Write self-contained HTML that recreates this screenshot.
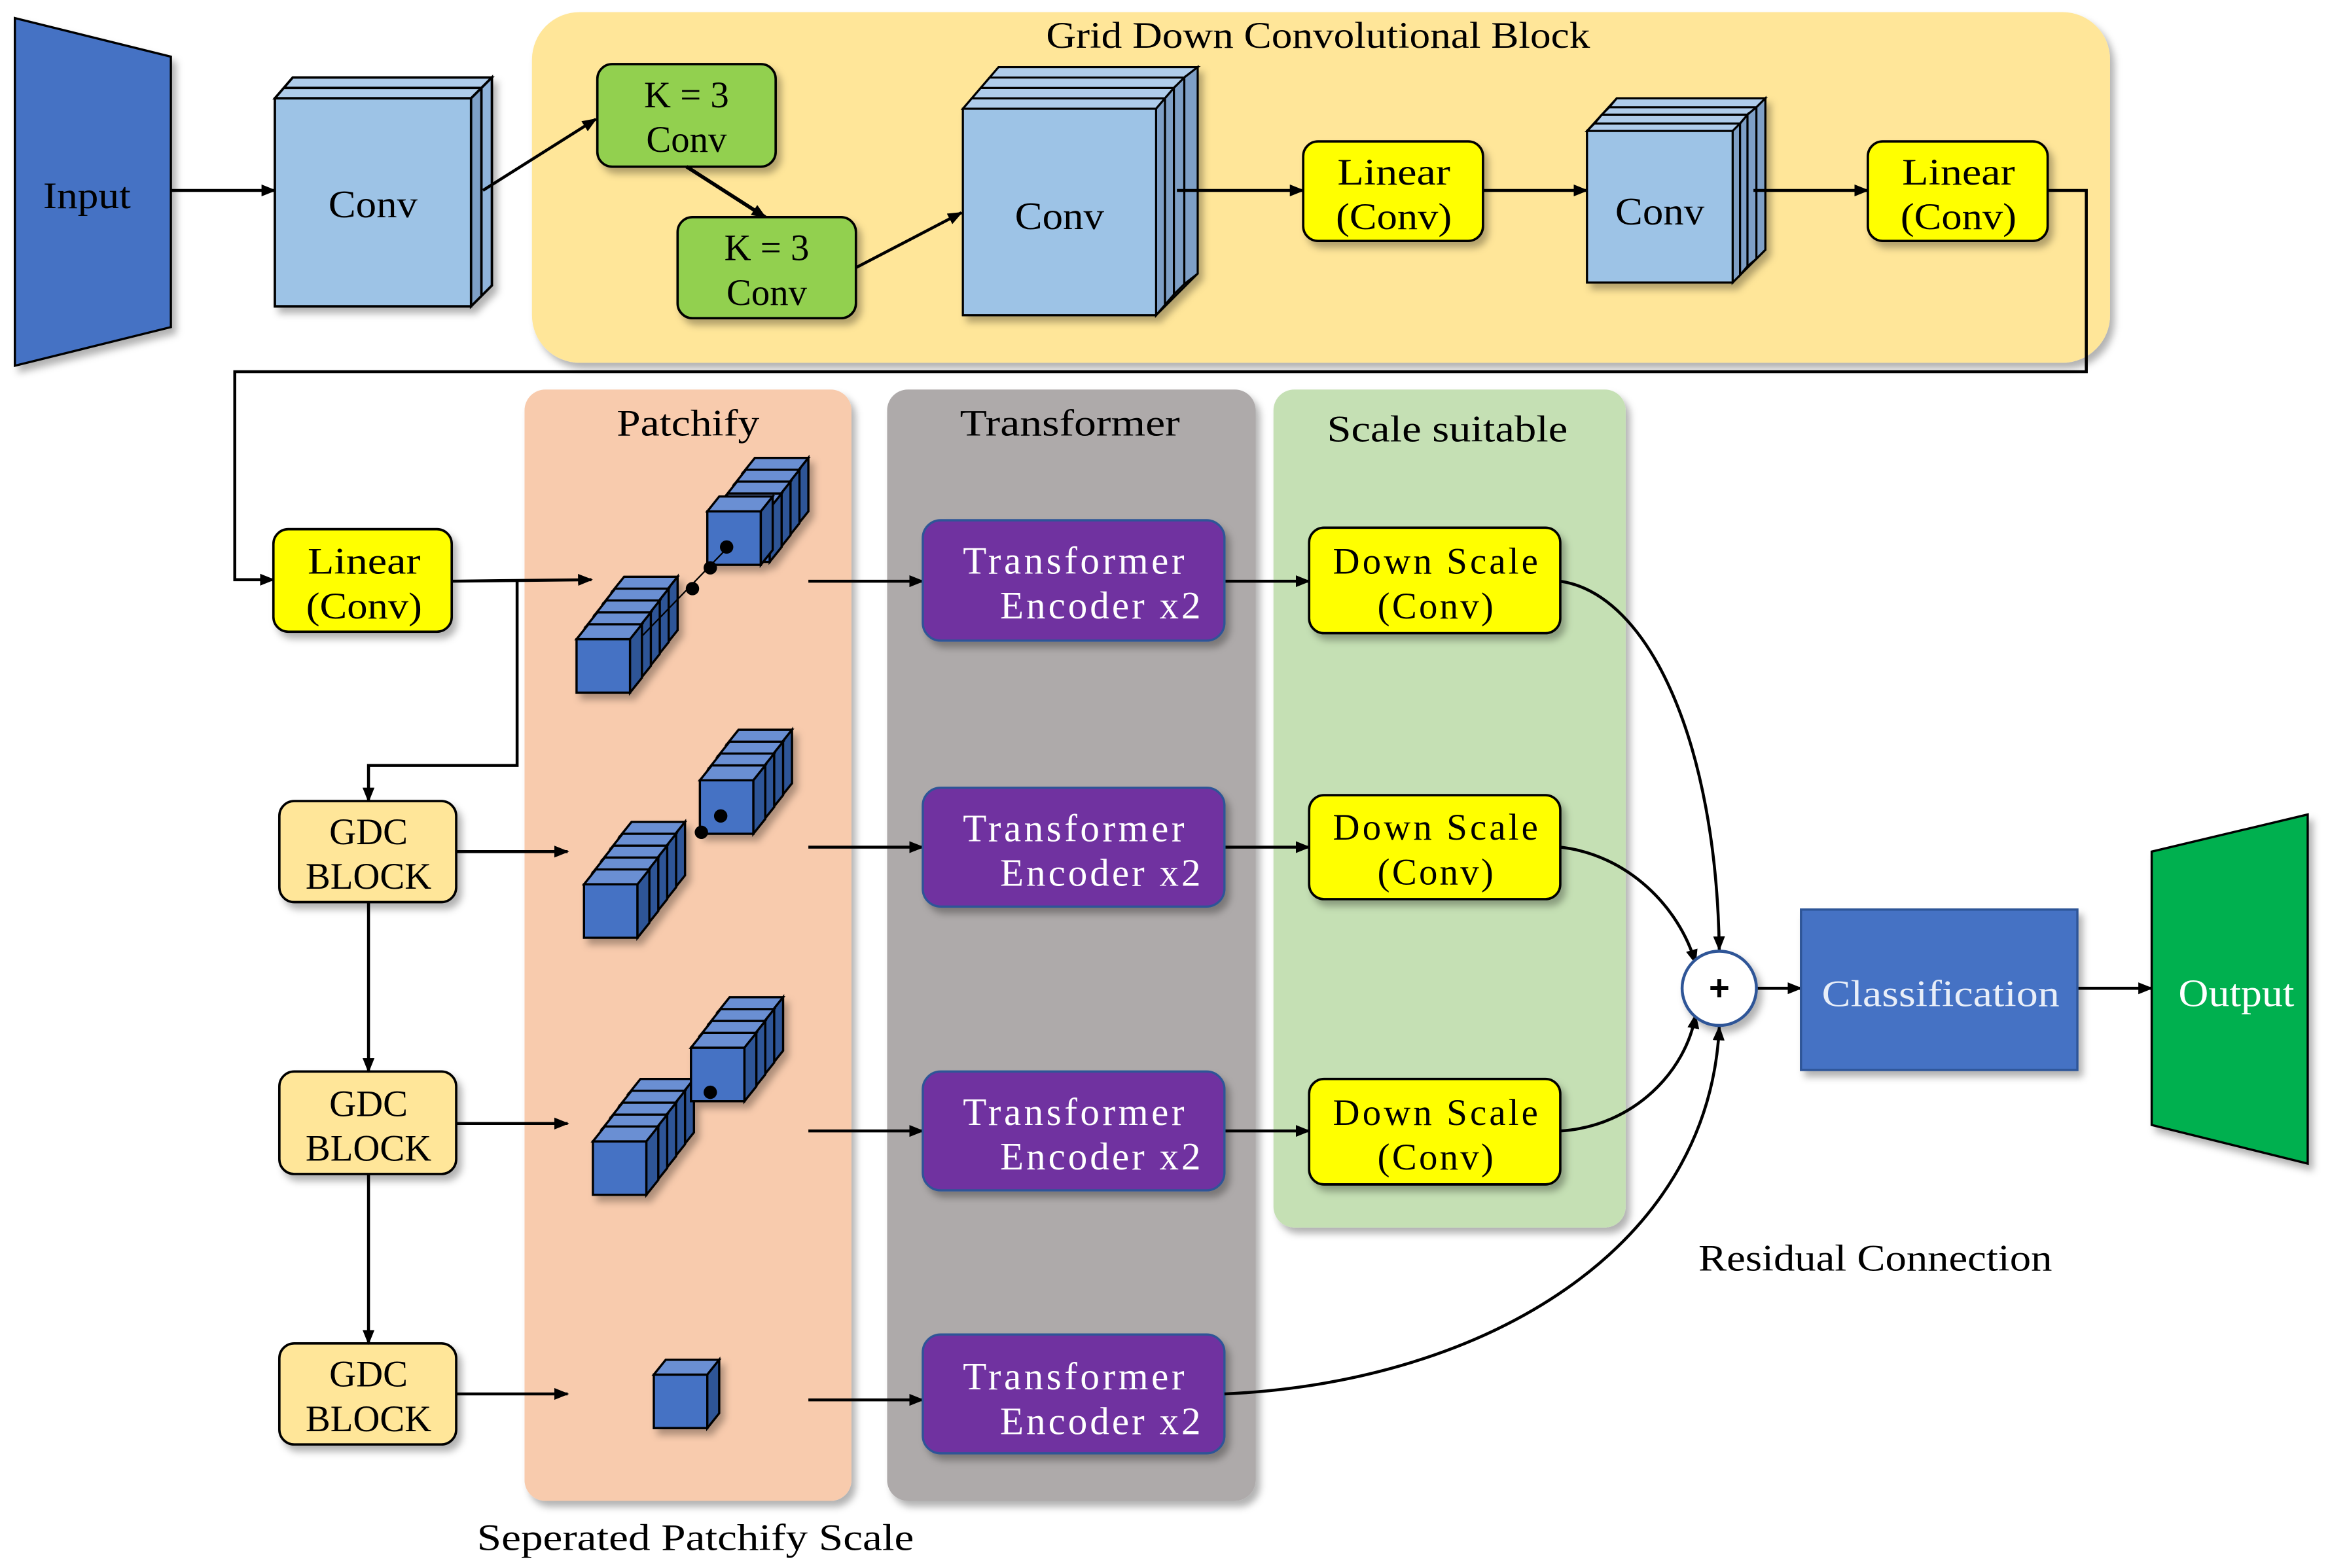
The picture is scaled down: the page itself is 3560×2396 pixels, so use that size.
<!DOCTYPE html>
<html><head><meta charset="utf-8"><style>html,body{margin:0;padding:0;background:#fff}svg{display:block}</style></head>
<body>
<svg width="3560" height="2396" viewBox="0 0 1568 1055" xmlns="http://www.w3.org/2000/svg" font-family="Liberation Serif, serif">
<defs>
<marker id="a" markerWidth="10" markerHeight="8" refX="9" refY="4" orient="auto" markerUnits="userSpaceOnUse"><path d="M0,0 L10,4 L0,8 z" fill="#000"/></marker>
<filter id="sh" x="-10%" y="-10%" width="130%" height="130%"><feDropShadow dx="3" dy="4" stdDeviation="2.5" flood-color="#000" flood-opacity="0.3"/></filter>
<g id="cube"><rect x="0" y="0" width="36" height="36" fill="#4472C4" stroke="#000" stroke-width="1.5"/><path d="M0,0 L8,-10 L44,-10 L36,0 z" fill="#6A8FD3" stroke="#000" stroke-width="1.5"/><path d="M36,0 L44,-10 L44,26 L36,36 z" fill="#2F5597" stroke="#000" stroke-width="1.5"/></g>
</defs>

<!-- panels -->
<rect x="358" y="8" width="1062" height="236" rx="32" fill="#FFE699" filter="url(#sh)"/>
<text x="704" y="32" font-size="25" textLength="366" lengthAdjust="spacingAndGlyphs">Grid Down Convolutional Block</text>
<rect x="353" y="262" width="220" height="748" rx="14" fill="#F8CBAD" filter="url(#sh)"/>
<text x="415" y="293" font-size="25" textLength="96" lengthAdjust="spacingAndGlyphs">Patchify</text>
<rect x="597" y="262" width="248" height="748" rx="14" fill="#AEAAAA" filter="url(#sh)"/>
<text x="646" y="293" font-size="25" textLength="148" lengthAdjust="spacingAndGlyphs">Transformer</text>
<rect x="857" y="262" width="237" height="564" rx="14" fill="#C5E0B4" filter="url(#sh)"/>
<text x="893" y="297" font-size="25" textLength="162" lengthAdjust="spacingAndGlyphs">Scale suitable</text>

<!-- Input -->
<polygon points="10,12 115,38 115,220 10,246" fill="#4472C4" stroke="#000" stroke-width="1.5" filter="url(#sh)"/>
<text x="29" y="140" font-size="25" textLength="59" lengthAdjust="spacingAndGlyphs">Input</text>
<line x1="115" y1="128" x2="185" y2="128" stroke="#000" stroke-width="2" marker-end="url(#a)"/>

<!-- Conv 1 -->
<g stroke="#000" stroke-width="1.6" filter="url(#sh)">
<path d="M197,52 L331,52 L331,192 L317,206 L185,206 L185,66 z" fill="#8FB3DA"/>
<path d="M191,59 L324,59 L331,52 L197,52 z" fill="#AFCCEA"/>
<path d="M185,66 L191,59 L324,59 L317,66 z" fill="#AFCCEA"/>
<path d="M317,66 L324,59 L324,199 L317,206 z" fill="#7E9FC6"/>
<path d="M324,59 L331,52 L331,192 L324,199 z" fill="#8FB3DA"/>
<rect x="185" y="66" width="132" height="140" fill="#9DC3E6"/>
</g>
<text x="221" y="146" font-size="26" textLength="60" lengthAdjust="spacingAndGlyphs">Conv</text>

<line x1="325" y1="128" x2="401" y2="80" stroke="#000" stroke-width="2" marker-end="url(#a)"/>

<!-- K=3 -->
<rect x="402" y="43" width="120" height="69" rx="10" fill="#92D050" stroke="#000" stroke-width="1.6" filter="url(#sh)"/>
<text x="462" y="72" font-size="25" text-anchor="middle">K = 3</text>
<text x="462" y="102" font-size="25" text-anchor="middle">Conv</text>
<line x1="462" y1="112" x2="515" y2="146" stroke="#000" stroke-width="2.5" marker-end="url(#a)"/>
<rect x="456" y="146" width="120" height="68" rx="10" fill="#92D050" stroke="#000" stroke-width="1.6" filter="url(#sh)"/>
<text x="516" y="175" font-size="25" text-anchor="middle">K = 3</text>
<text x="516" y="205" font-size="25" text-anchor="middle">Conv</text>
<line x1="576" y1="180" x2="647" y2="143" stroke="#000" stroke-width="2" marker-end="url(#a)"/>

<!-- Conv 2 big -->
<g stroke="#000" stroke-width="1.4" filter="url(#sh)">
<path d="M672,45 L806,45 L806,184 L778,212 L648,212 L648,73 z" fill="#8FB3DA"/>
<path d="M648,73 L654,66 L784,66 L778,73 z" fill="#AFCCEA"/>
<path d="M654,66 L660,59 L790,59 L784,66 z" fill="#AFCCEA"/>
<path d="M660,59 L666,52 L797,52 L790,59 z" fill="#AFCCEA"/>
<path d="M666,52 L672,45 L806,45 L797,52 z" fill="#AFCCEA"/>
<path d="M778,73 L784,66 L784,205 L778,212 z" fill="#7E9FC6"/>
<path d="M784,66 L790,59 L790,198 L784,205 z" fill="#7E9FC6"/>
<path d="M790,59 L797,52 L797,191 L790,198 z" fill="#7E9FC6"/>
<path d="M797,52 L806,45 L806,184 L797,191 z" fill="#7E9FC6"/>
<rect x="648" y="73" width="130" height="139" fill="#9DC3E6"/>
</g>
<text x="683" y="154" font-size="26" textLength="60" lengthAdjust="spacingAndGlyphs">Conv</text>
<line x1="792" y1="128" x2="877" y2="128" stroke="#000" stroke-width="2" marker-end="url(#a)"/>

<rect x="877" y="95" width="121" height="67" rx="10" fill="#FFFF00" stroke="#000" stroke-width="1.6" filter="url(#sh)"/>
<text x="900" y="124" font-size="25" textLength="76" lengthAdjust="spacingAndGlyphs">Linear</text>
<text x="899" y="154" font-size="25" textLength="78" lengthAdjust="spacingAndGlyphs">(Conv)</text>
<line x1="998" y1="128" x2="1068" y2="128" stroke="#000" stroke-width="2" marker-end="url(#a)"/>

<!-- Conv 3 -->
<g stroke="#000" stroke-width="1.4" filter="url(#sh)">
<path d="M1088,66 L1188,66 L1188,168 L1166,190 L1068,190 L1068,88 z" fill="#8FB3DA"/>
<path d="M1068,88 L1073,83 L1171,83 L1166,88 z" fill="#AFCCEA"/>
<path d="M1073,83 L1078,77 L1176,77 L1171,83 z" fill="#AFCCEA"/>
<path d="M1078,77 L1083,72 L1182,72 L1176,77 z" fill="#AFCCEA"/>
<path d="M1083,72 L1088,66 L1188,66 L1182,72 z" fill="#AFCCEA"/>
<path d="M1166,88 L1171,83 L1171,185 L1166,190 z" fill="#7E9FC6"/>
<path d="M1171,83 L1176,77 L1176,179 L1171,185 z" fill="#7E9FC6"/>
<path d="M1176,77 L1182,72 L1182,174 L1176,179 z" fill="#7E9FC6"/>
<path d="M1182,72 L1188,66 L1188,168 L1182,174 z" fill="#7E9FC6"/>
<rect x="1068" y="88" width="98" height="102" fill="#9DC3E6"/>
</g>
<text x="1087" y="151" font-size="26" textLength="60" lengthAdjust="spacingAndGlyphs">Conv</text>
<line x1="1180" y1="128" x2="1257" y2="128" stroke="#000" stroke-width="2" marker-end="url(#a)"/>

<rect x="1257" y="95" width="121" height="67" rx="10" fill="#FFFF00" stroke="#000" stroke-width="1.6" filter="url(#sh)"/>
<text x="1280" y="124" font-size="25" textLength="76" lengthAdjust="spacingAndGlyphs">Linear</text>
<text x="1279" y="154" font-size="25" textLength="78" lengthAdjust="spacingAndGlyphs">(Conv)</text>

<polyline points="1378,128 1404,128 1404,250 158,250 158,390 184,390" fill="none" stroke="#000" stroke-width="2" marker-end="url(#a)"/>

<!-- Linear left -->
<rect x="184" y="356" width="120" height="69" rx="10" fill="#FFFF00" stroke="#000" stroke-width="1.6" filter="url(#sh)"/>
<text x="207" y="386" font-size="25" textLength="76" lengthAdjust="spacingAndGlyphs">Linear</text>
<text x="206" y="416" font-size="25" textLength="78" lengthAdjust="spacingAndGlyphs">(Conv)</text>
<line x1="304" y1="391" x2="398" y2="390" stroke="#000" stroke-width="2" marker-end="url(#a)"/>
<polyline points="348,391 348,515 248,515 248,539" fill="none" stroke="#000" stroke-width="2" marker-end="url(#a)"/>

<!-- GDC -->
<g filter="url(#sh)">
<rect x="188" y="539" width="119" height="68" rx="10" fill="#FFE699" stroke="#000" stroke-width="1.6"/>
<rect x="188" y="721" width="119" height="69" rx="10" fill="#FFE699" stroke="#000" stroke-width="1.6"/>
<rect x="188" y="904" width="119" height="68" rx="10" fill="#FFE699" stroke="#000" stroke-width="1.6"/>
</g>
<g font-size="25" text-anchor="middle">
<text x="248" y="568">GDC</text><text x="248" y="598">BLOCK</text>
<text x="248" y="751">GDC</text><text x="248" y="781">BLOCK</text>
<text x="248" y="933">GDC</text><text x="248" y="963">BLOCK</text>
</g>
<line x1="307" y1="573" x2="382" y2="573" stroke="#000" stroke-width="2" marker-end="url(#a)"/>
<line x1="248" y1="607" x2="248" y2="721" stroke="#000" stroke-width="2" marker-end="url(#a)"/>
<line x1="307" y1="756" x2="382" y2="756" stroke="#000" stroke-width="2" marker-end="url(#a)"/>
<line x1="248" y1="790" x2="248" y2="904" stroke="#000" stroke-width="2" marker-end="url(#a)"/>
<line x1="307" y1="938" x2="382" y2="938" stroke="#000" stroke-width="2" marker-end="url(#a)"/>

<!-- cubes row1 -->
<g filter="url(#sh)">
<use href="#cube" x="412" y="398"/><use href="#cube" x="406" y="406"/><use href="#cube" x="400" y="414"/><use href="#cube" x="394" y="422"/><use href="#cube" x="388" y="430"/>
<use href="#cube" x="500" y="318"/><use href="#cube" x="494" y="326"/><use href="#cube" x="488" y="334"/><use href="#cube" x="482" y="342"/><use href="#cube" x="476" y="344"/>
</g>
<line x1="432" y1="428" x2="492" y2="366" stroke="#000" stroke-width="1"/>
<circle cx="466" cy="396" r="4.5"/><circle cx="478" cy="382" r="4.5"/><circle cx="489" cy="368" r="4.5"/>
<!-- row2 -->
<g filter="url(#sh)">
<use href="#cube" x="417" y="563"/><use href="#cube" x="411" y="571"/><use href="#cube" x="405" y="579"/><use href="#cube" x="399" y="587"/><use href="#cube" x="393" y="595"/>
<use href="#cube" x="489" y="501"/><use href="#cube" x="483" y="509"/><use href="#cube" x="477" y="517"/><use href="#cube" x="471" y="525"/>
</g>
<circle cx="472" cy="560" r="4.5"/><circle cx="485" cy="549" r="4.5"/>
<!-- row3 -->
<g filter="url(#sh)">
<use href="#cube" x="423" y="736"/><use href="#cube" x="417" y="744"/><use href="#cube" x="411" y="752"/><use href="#cube" x="405" y="760"/><use href="#cube" x="399" y="768"/>
<use href="#cube" x="483" y="681"/><use href="#cube" x="477" y="689"/><use href="#cube" x="471" y="697"/><use href="#cube" x="465" y="705"/>
</g>
<circle cx="478" cy="735" r="4.5"/>
<!-- row4 -->
<g filter="url(#sh)"><use href="#cube" x="440" y="925"/></g>

<!-- patch -> transformer -->
<g stroke="#000" stroke-width="2" marker-end="url(#a)">
<line x1="544" y1="391" x2="621" y2="391"/>
<line x1="544" y1="570" x2="621" y2="570"/>
<line x1="544" y1="761" x2="621" y2="761"/>
<line x1="544" y1="942" x2="621" y2="942"/>
<line x1="824" y1="391" x2="881" y2="391"/>
<line x1="824" y1="570" x2="881" y2="570"/>
<line x1="824" y1="761" x2="881" y2="761"/>
</g>

<!-- transformers -->
<g filter="url(#sh)" fill="#7030A0" stroke="#2F5597" stroke-width="1.5">
<rect x="621" y="350" width="203" height="81" rx="12"/>
<rect x="621" y="530" width="203" height="80" rx="12"/>
<rect x="621" y="721" width="203" height="80" rx="12"/>
<rect x="621" y="898" width="203" height="80" rx="12"/>
</g>
<g fill="#fff" font-size="26" lengthAdjust="spacingAndGlyphs">
<text x="648" y="386" textLength="149">Transformer</text><text x="673" y="416" textLength="135">Encoder x2</text>
<text x="648" y="566" textLength="149">Transformer</text><text x="673" y="596" textLength="135">Encoder x2</text>
<text x="648" y="757" textLength="149">Transformer</text><text x="673" y="787" textLength="135">Encoder x2</text>
<text x="648" y="935" textLength="149">Transformer</text><text x="673" y="965" textLength="135">Encoder x2</text>
</g>

<!-- down scale -->
<g filter="url(#sh)" fill="#FFFF00" stroke="#000" stroke-width="1.6">
<rect x="881" y="355" width="169" height="71" rx="10"/>
<rect x="881" y="535" width="169" height="70" rx="10"/>
<rect x="881" y="726" width="169" height="71" rx="10"/>
</g>
<g font-size="25" lengthAdjust="spacingAndGlyphs">
<text x="897" y="386" textLength="138">Down Scale</text><text x="927" y="416" textLength="78">(Conv)</text>
<text x="897" y="565" textLength="138">Down Scale</text><text x="927" y="595" textLength="78">(Conv)</text>
<text x="897" y="757" textLength="138">Down Scale</text><text x="927" y="787" textLength="78">(Conv)</text>
</g>

<!-- curves -->
<g fill="none" stroke="#000" stroke-width="2" marker-end="url(#a)">
<path d="M1050,391 C1110,400 1155,500 1157,639"/>
<path d="M1050,570 C1095,575 1130,610 1141,648"/>
<path d="M1050,761 C1100,758 1135,720 1141,683"/>
<path d="M824,938 C1000,930 1150,840 1157,691"/>
<line x1="1182" y1="665" x2="1212" y2="665"/>
<line x1="1398" y1="665" x2="1448" y2="665"/>
</g>
<circle cx="1157" cy="665" r="25" fill="#fff" stroke="#2F5597" stroke-width="2" filter="url(#sh)"/>
<text x="1157" y="673" font-size="24" text-anchor="middle" font-family="Liberation Sans, sans-serif" font-weight="bold">+</text>

<rect x="1212" y="612" width="186" height="108" fill="#4472C4" stroke="#2F5597" stroke-width="1.5" filter="url(#sh)"/>
<text x="1226" y="677" font-size="25" fill="#E8EEF8" textLength="160" lengthAdjust="spacingAndGlyphs">Classification</text>
<polygon points="1448,573 1553,548 1553,783 1448,757" fill="#00B050" stroke="#000" stroke-width="1.5" filter="url(#sh)"/>
<text x="1466" y="677" font-size="26" fill="#fff" textLength="78" lengthAdjust="spacingAndGlyphs">Output</text>

<text x="1143" y="855" font-size="25" textLength="238" lengthAdjust="spacingAndGlyphs">Residual Connection</text>
<text x="321" y="1043" font-size="25" textLength="294" lengthAdjust="spacingAndGlyphs">Seperated Patchify Scale</text>
</svg>
</body></html>
